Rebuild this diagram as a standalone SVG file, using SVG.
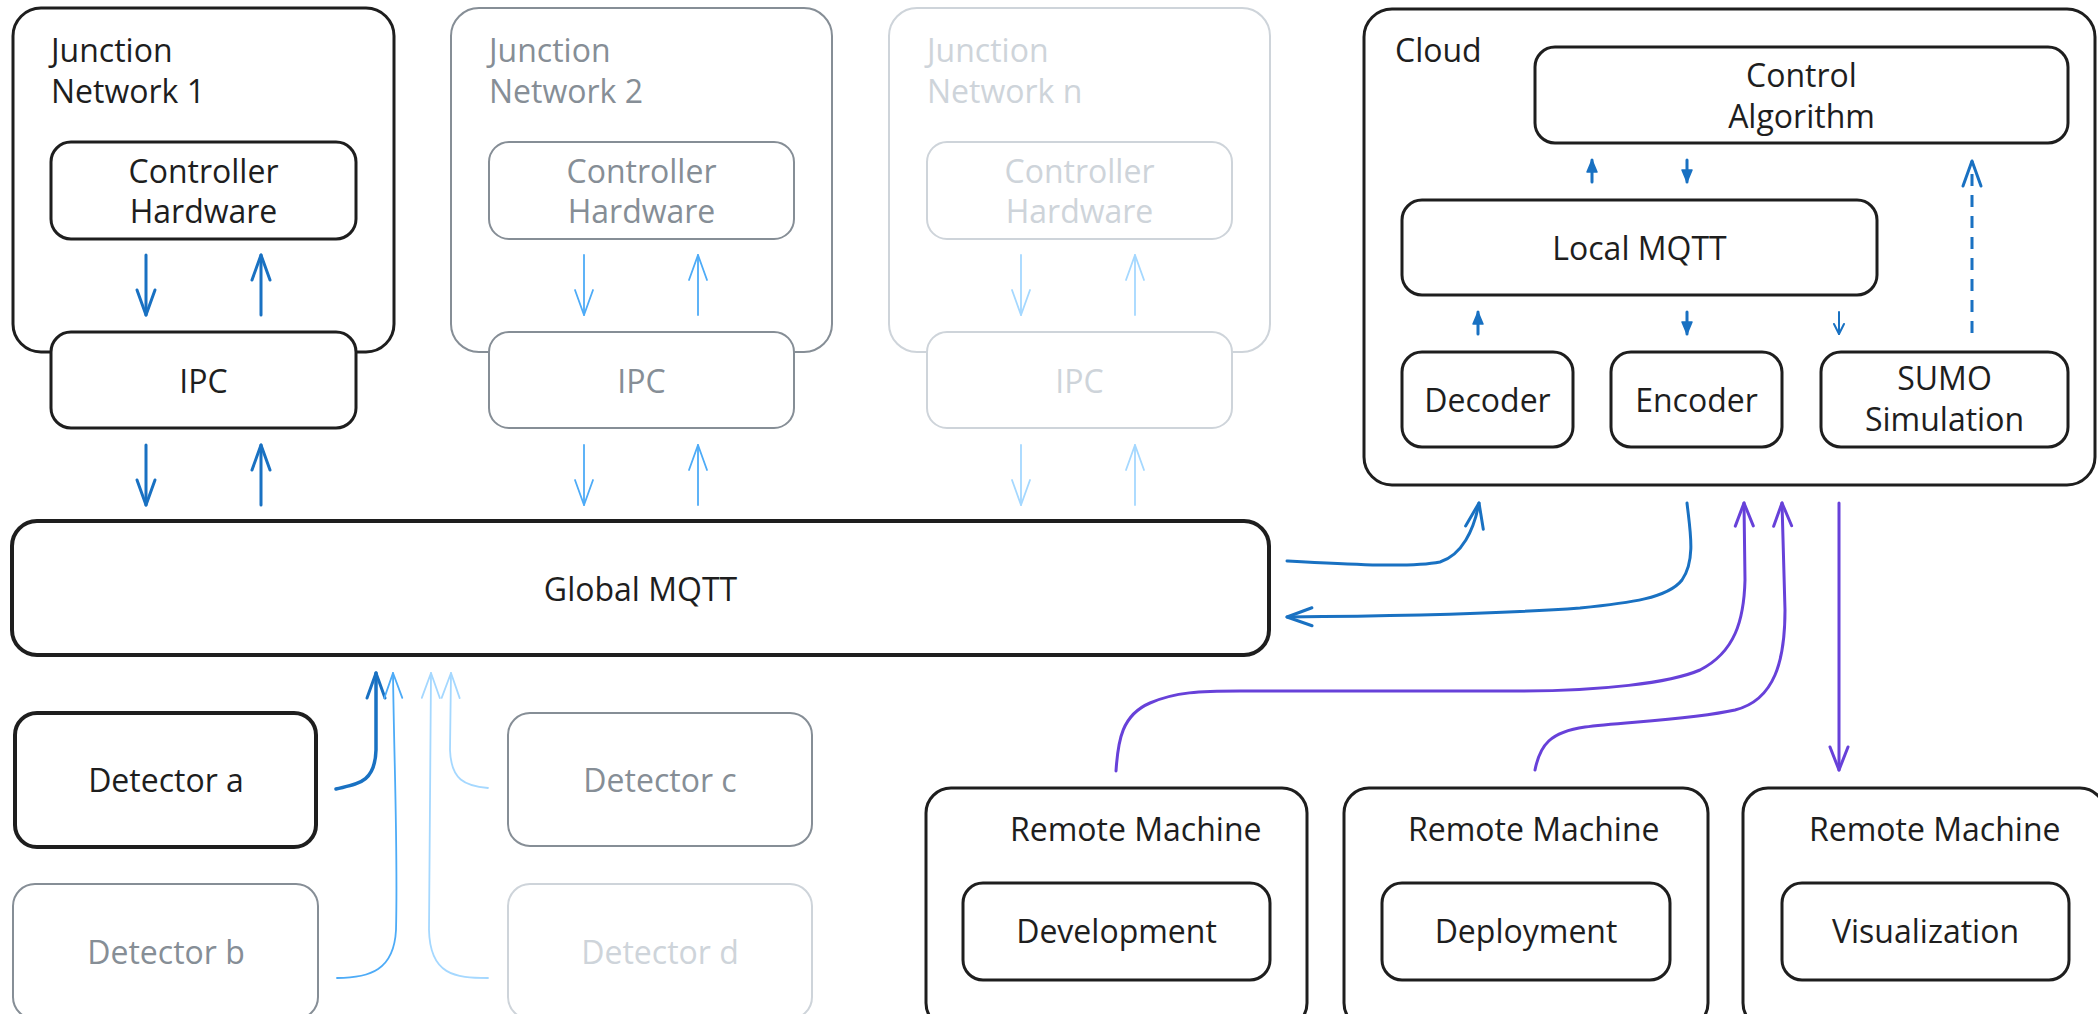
<svg xmlns="http://www.w3.org/2000/svg" width="2098" height="1014" viewBox="0 0 2098 1014">
<style>
.t{font-family:"Open Sans","Noto Sans","Liberation Sans",sans-serif;font-size:32px;fill:#1e1e1e}
.c{text-anchor:middle}
.g{fill:#868e96}
.l{fill:#ced4da}
.b{fill:#fff;stroke:#1e1e1e;stroke-width:3}
.bg{fill:#fff;stroke:#868e96;stroke-width:2}
.bl{fill:#fff;stroke:#ced4da;stroke-width:2}
.k{fill:none;stroke-linecap:round;stroke-linejoin:round}
.dk{stroke:#1971c2;stroke-width:3}
.md{stroke:#4dabf7;stroke-width:1.8}
.lt{stroke:#a5d8ff;stroke-width:1.8}
.pu{stroke:#6741d9;stroke-width:3}
</style>
<defs>
<marker id="mDk" markerUnits="userSpaceOnUse" orient="auto" overflow="visible" markerWidth="1" markerHeight="1"><path d="M-25,-9 L0,0 L-25,9" fill="none" stroke="#1971c2" stroke-width="3" stroke-linecap="round" stroke-linejoin="round"/></marker>
<marker id="mMd" markerUnits="userSpaceOnUse" orient="auto" overflow="visible" markerWidth="1" markerHeight="1"><path d="M-25,-9 L0,0 L-25,9" fill="none" stroke="#4dabf7" stroke-width="1.8" stroke-linecap="round" stroke-linejoin="round"/></marker>
<marker id="mLt" markerUnits="userSpaceOnUse" orient="auto" overflow="visible" markerWidth="1" markerHeight="1"><path d="M-25,-9 L0,0 L-25,9" fill="none" stroke="#a5d8ff" stroke-width="1.8" stroke-linecap="round" stroke-linejoin="round"/></marker>
<marker id="mPu" markerUnits="userSpaceOnUse" orient="auto" overflow="visible" markerWidth="1" markerHeight="1"><path d="M-23,-9 L0,0 L-23,9" fill="none" stroke="#6741d9" stroke-width="3" stroke-linecap="round" stroke-linejoin="round"/></marker>
<marker id="mSm" markerUnits="userSpaceOnUse" orient="auto" overflow="visible" markerWidth="1" markerHeight="1"><path d="M-12,-5 L0,0 L-12,5 Z" fill="#1971c2" stroke="#1971c2" stroke-width="1.5" stroke-linejoin="round"/></marker>
<marker id="mSo" markerUnits="userSpaceOnUse" orient="auto" overflow="visible" markerWidth="1" markerHeight="1"><path d="M-10,-5 L0,0 L-10,5" fill="none" stroke="#1971c2" stroke-width="2" stroke-linecap="round" stroke-linejoin="round"/></marker>
</defs>
<rect width="2098" height="1014" fill="#fff"/>

<g id="junction-network-1">
<rect x="13" y="8" width="381" height="344" rx="28" class="b"/>
<text class="t" x="51" y="62">Junction</text>
<text class="t" x="51" y="103">Network 1</text>
<g id="controller-hardware-1"><rect x="51" y="142" width="305" height="97" rx="20" class="b"/>
<text class="t c" x="203.5" y="183">Controller</text><text class="t c" x="203.5" y="223">Hardware</text></g>
<g id="ipc-1"><rect x="51" y="332" width="305" height="96" rx="20" class="b"/>
<text class="t c" x="203.5" y="393">IPC</text></g>
</g>

<g id="junction-network-2">
<rect x="451" y="8" width="381" height="344" rx="28" class="bg"/>
<text class="t g" x="489" y="62">Junction</text>
<text class="t g" x="489" y="103">Network 2</text>
<g id="controller-hardware-2"><rect x="489" y="142" width="305" height="97" rx="20" class="bg"/>
<text class="t c g" x="641.5" y="183">Controller</text><text class="t c g" x="641.5" y="223">Hardware</text></g>
<g id="ipc-2"><rect x="489" y="332" width="305" height="96" rx="20" class="bg"/>
<text class="t c g" x="641.5" y="393">IPC</text></g>
</g>

<g id="junction-network-n">
<rect x="889" y="8" width="381" height="344" rx="28" class="bl"/>
<text class="t l" x="927" y="62">Junction</text>
<text class="t l" x="927" y="103">Network n</text>
<g id="controller-hardware-n"><rect x="927" y="142" width="305" height="97" rx="20" class="bl"/>
<text class="t c l" x="1079.5" y="183">Controller</text><text class="t c l" x="1079.5" y="223">Hardware</text></g>
<g id="ipc-n"><rect x="927" y="332" width="305" height="96" rx="20" class="bl"/>
<text class="t c l" x="1079.5" y="393">IPC</text></g>
</g>

<g id="cloud">
<rect x="1364" y="9" width="731" height="476" rx="28" class="b"/>
<text class="t" x="1395" y="62">Cloud</text>
<g id="control-algorithm"><rect x="1535" y="47" width="533" height="96" rx="20" class="b"/>
<text class="t c" x="1801.5" y="87">Control</text><text class="t c" x="1801.5" y="128">Algorithm</text></g>
<g id="local-mqtt"><rect x="1402" y="200" width="475" height="95" rx="20" class="b"/>
<text class="t c" x="1639.5" y="260">Local MQTT</text></g>
<g id="decoder"><rect x="1402" y="352" width="171" height="95" rx="20" class="b"/>
<text class="t c" x="1487.5" y="412">Decoder</text></g>
<g id="encoder"><rect x="1611" y="352" width="171" height="95" rx="20" class="b"/>
<text class="t c" x="1696.5" y="412">Encoder</text></g>
<g id="sumo"><rect x="1821" y="352" width="247" height="95" rx="20" class="b"/>
<text class="t c" x="1944.5" y="390">SUMO</text><text class="t c" x="1944.5" y="431">Simulation</text></g>
</g>

<g id="global-mqtt">
<rect x="12" y="521" width="1257" height="134" rx="25" class="b" style="stroke-width:4"/>
<text class="t c" x="640.5" y="601">Global MQTT</text>
</g>

<g id="detector-a"><rect x="15" y="713" width="301" height="134" rx="22" class="b" style="stroke-width:4"/>
<text class="t c" x="166" y="792">Detector a</text></g>
<g id="detector-b"><rect x="13" y="884" width="305" height="135" rx="22" class="bg"/>
<text class="t c g" x="166" y="964">Detector b</text></g>
<g id="detector-c"><rect x="508" y="713" width="304" height="133" rx="22" class="bg"/>
<text class="t c g" x="660" y="792">Detector c</text></g>
<g id="detector-d"><rect x="508" y="884" width="304" height="135" rx="22" class="bl"/>
<text class="t c l" x="660" y="964">Detector d</text></g>

<g id="remote-machine-1"><rect x="926" y="788" width="381" height="240" rx="25" class="b"/>
<text class="t" x="1010" y="841">Remote Machine</text>
<g id="development"><rect x="963" y="883" width="307" height="97" rx="20" class="b"/>
<text class="t c" x="1116.5" y="943">Development</text></g></g>
<g id="remote-machine-2"><rect x="1344" y="788" width="364" height="240" rx="25" class="b"/>
<text class="t" x="1408" y="841">Remote Machine</text>
<g id="deployment"><rect x="1382" y="883" width="288" height="97" rx="20" class="b"/>
<text class="t c" x="1526" y="943">Deployment</text></g></g>
<g id="remote-machine-3"><rect x="1743" y="788" width="362" height="240" rx="25" class="b"/>
<text class="t" x="1809" y="841">Remote Machine</text>
<g id="visualization"><rect x="1782" y="883" width="287" height="97" rx="20" class="b"/>
<text class="t c" x="1925.5" y="943">Visualization</text></g></g>

<g id="connectors" class="k">
<!-- junction 1 -->
<path class="k dk" d="M146,255 L146,315" marker-end="url(#mDk)"/>
<path class="k dk" d="M261,315 L261,255" marker-end="url(#mDk)"/>
<path class="k dk" d="M146,445 L146,505" marker-end="url(#mDk)"/>
<path class="k dk" d="M261,505 L261,445" marker-end="url(#mDk)"/>
<!-- junction 2 -->
<path class="k md" d="M584,255 L584,315" marker-end="url(#mMd)"/>
<path class="k md" d="M698,315 L698,255" marker-end="url(#mMd)"/>
<path class="k md" d="M584,445 L584,505" marker-end="url(#mMd)"/>
<path class="k md" d="M698,505 L698,445" marker-end="url(#mMd)"/>
<!-- junction n -->
<path class="k lt" d="M1021,255 L1021,315" marker-end="url(#mLt)"/>
<path class="k lt" d="M1135,315 L1135,255" marker-end="url(#mLt)"/>
<path class="k lt" d="M1021,445 L1021,505" marker-end="url(#mLt)"/>
<path class="k lt" d="M1135,505 L1135,445" marker-end="url(#mLt)"/>
<!-- detectors -->
<path class="k dk" style="stroke-width:3.5" d="M336,789 C356,784 375,784 376,750 L376,673" marker-end="url(#mDk)"/>
<path class="k md" d="M337,978 C370,978 394,970 396,930 C398,850 394,760 393,673" marker-end="url(#mMd)"/>
<path class="k lt" d="M488,788 C465,786 451,780 450,750 L451,673" marker-end="url(#mLt)"/>
<path class="k lt" d="M488,978 C455,978 430,975 429,930 L431,673" marker-end="url(#mLt)"/>
<!-- cloud internal -->
<path class="k dk" d="M1592,182 L1592,160" marker-end="url(#mSm)"/>
<path class="k dk" d="M1687,160 L1687,182" marker-end="url(#mSm)"/>
<path class="k dk" d="M1478,334 L1478,312" marker-end="url(#mSm)"/>
<path class="k dk" d="M1687,312 L1687,334" marker-end="url(#mSm)"/>
<path class="k dk" style="stroke-width:2" d="M1839,312 L1839,334" marker-end="url(#mSo)"/>
<path class="k dk" style="stroke-dasharray:12 9;stroke-linecap:butt" d="M1972,333 L1972,161" marker-end="url(#mDk)"/>
<!-- global <-> cloud -->
<path class="k dk" d="M1287,561 C1340,564 1410,568 1440,562 C1462,555 1474,530 1479,503" marker-end="url(#mDk)"/>
<path class="k dk" d="M1687,503 C1690,530 1696,560 1682,580 C1668,598 1630,603 1580,608 C1500,614 1400,616 1287,617" marker-end="url(#mDk)"/>
<!-- remote machines -->
<path class="k pu" d="M1116,771 C1118,740 1122,715 1150,703 C1175,692 1200,691 1240,691 L1520,691 C1600,691 1670,683 1700,670 C1735,652 1744,620 1745,580 L1744,503" marker-end="url(#mPu)"/>
<path class="k pu" d="M1535,770 C1540,745 1550,732 1585,727 C1620,722 1690,720 1735,710 C1775,700 1785,660 1785,610 L1782,503" marker-end="url(#mPu)"/>
<path class="k pu" d="M1839,503 L1839,770" marker-end="url(#mPu)"/>
</g>
</svg>
